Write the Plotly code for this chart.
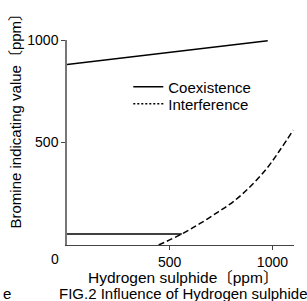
import plotly.graph_objects as go

# Data
coex_hi_x = [0, 977]
coex_hi_y = [881, 996]
coex_lo_x = [0, 559]
coex_lo_y = [54, 54]
interf_x = [446, 559, 648, 737, 810, 891, 972, 1036, 1101]
interf_y = [0, 54, 105, 162, 212, 284, 373, 462, 560]
x_ticks = [500, 1000]
y_ticks = [500, 1000]

FONT = "Liberation Sans, Arial, Noto Sans CJK JP"

fig = go.Figure()
fig.add_trace(go.Scatter(x=coex_hi_x, y=coex_hi_y, mode="lines",
                         line=dict(color="black", width=1.5), showlegend=False))
fig.add_trace(go.Scatter(x=coex_lo_x, y=coex_lo_y, mode="lines",
                         line=dict(color="black", width=1.5), showlegend=False))
fig.add_trace(go.Scatter(x=interf_x, y=interf_y, mode="lines", line_shape="spline",
                         line=dict(color="black", width=1.5, dash="6px,3px"), showlegend=False))
# legend entries
fig.add_trace(go.Scatter(x=[None], y=[None], mode="lines", name="Coexistence",
                         line=dict(color="black", width=1.5), legend="legend"))
fig.add_trace(go.Scatter(x=[None], y=[None], mode="lines", name="Interference",
                         line=dict(color="black", width=1.5, dash="2px,2px"), legend="legend2"))

leg_common = dict(xanchor="left", yanchor="middle", bgcolor="rgba(0,0,0,0)",
                  font=dict(size=15), tracegroupgap=0)

fig.update_layout(
    width=307, height=301,
    margin=dict(l=67, r=13, t=40, b=56),
    paper_bgcolor="white", plot_bgcolor="white",
    font=dict(family=FONT, size=14, color="black"),
    legend=dict(x=0.27, y=0.771, **leg_common),
    legend2=dict(x=0.27, y=0.688, **leg_common),
    xaxis=dict(range=[0, 1105], showgrid=False, zeroline=False,
               showline=True, linecolor="#444", linewidth=1.2,
               ticks="outside", ticklen=4, tickcolor="#444",
               tickvals=x_ticks, ticktext=[str(v) for v in x_ticks]),
    yaxis=dict(range=[0, 1000], showgrid=False, zeroline=False,
               showline=True, linecolor="#777", linewidth=1.5,
               ticks="outside", ticklen=4, tickcolor="#444",
               tickvals=y_ticks, ticktext=[str(v) for v in y_ticks]),
    showlegend=True,
)

anns = [
    dict(text="0", x=-0.053, y=-0.068, xanchor="center", yanchor="middle", font=dict(size=14)),
    dict(text="Hydrogen sulphide〔ppm〕", x=0.511, y=-0.158, xanchor="center", yanchor="middle", font=dict(size=15.5)),
    dict(text="FIG.2 Influence of Hydrogen sulphide", x=-0.044, y=-0.236, xanchor="left", yanchor="middle", font=dict(size=15)),
    dict(text="e", x=-0.289, y=-0.236, xanchor="left", yanchor="middle", font=dict(size=15)),
    dict(text="Bromine indicating value〔ppm〕", x=-0.229, y=0.622, xanchor="center", yanchor="middle",
         textangle=-90, font=dict(size=15)),
]
for a in anns:
    fig.add_annotation(xref="paper", yref="paper", showarrow=False, **a)

fig.write_html("out.html",
               config=dict(displayModeBar=False),
               post_script="document.body.style.margin='0';document.body.style.padding='0';"
                           "document.documentElement.style.overflow='hidden';")
